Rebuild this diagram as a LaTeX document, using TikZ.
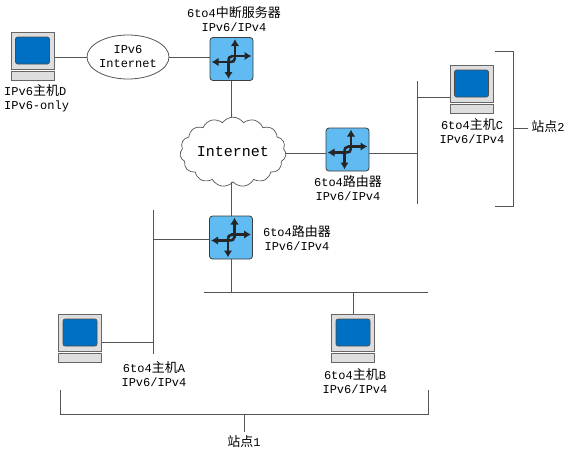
\documentclass[tikz,border=0pt]{standalone}
\usepackage{fontspec}
\setmainfont{Liberation Mono}
\newfontfamily\cjkfont{Noto Sans CJK SC}
\usetikzlibrary{shapes.geometric,shapes.symbols,arrows.meta}
\newcommand{\zh}[1]{{\cjkfont\fontsize{13}{14}\selectfont #1}}
\definecolor{wirecol}{HTML}{555555}
\definecolor{routerblue}{HTML}{5FBBF2}
\definecolor{screenblue}{HTML}{0070C4}
\definecolor{casegray}{HTML}{DEDEDE}
\tikzset{
	wire/.style={draw=wirecol,line width=0.8pt},
	routerbox/.style={draw=wirecol!70!black,line width=0.8pt,fill=routerblue,rounded corners=3pt,minimum width=43pt,minimum height=43pt,inner sep=0pt},
	routerarrow/.style={line width=2.6pt,draw=black!85,-{Latex[length=7pt,width=8.5pt]}},
	hostbox/.style={draw=black!60,line width=1pt,fill=casegray,minimum width=43pt,minimum height=37pt,inner sep=0pt},
	hostscreen/.style={draw=black!70,line width=0.6pt,fill=screenblue,rounded corners=2pt,minimum width=34pt,minimum height=27pt,inner sep=0pt},
	hostbase/.style={draw=black!60,line width=0.8pt,fill=casegray,minimum width=43pt,minimum height=9pt,inner sep=0pt},
	lbl/.style={font=\fontsize{12}{14}\selectfont,align=center,inner sep=0pt},
}
\newcommand{\routerglyph}[1]{
	\draw[routerarrow] ([xshift=-2pt,yshift=-3pt]#1.center) -- ([xshift=-20pt,yshift=-3pt]#1.center);
	\draw[routerarrow] ([xshift=0pt,yshift=3pt]#1.center) -- ([xshift=20pt,yshift=3pt]#1.center);
	\draw[routerarrow] ([xshift=3.5pt,yshift=0pt]#1.center) -- ([xshift=3.5pt,yshift=20pt]#1.center);
	\draw[routerarrow] ([xshift=-3pt,yshift=-2pt]#1.center) -- ([xshift=-3pt,yshift=-20pt]#1.center);
	\draw[line width=2.6pt,draw=black!85] ([xshift=-3pt,yshift=-3pt]#1.center) .. controls ([xshift=2pt,yshift=-3pt]#1.center) and ([xshift=3.5pt,yshift=-2pt]#1.center) .. ([xshift=3.5pt,yshift=1pt]#1.center);
	\draw[line width=2.6pt,draw=black!85] ([xshift=-3pt,yshift=-3pt]#1.center) .. controls ([xshift=-3pt,yshift=1pt]#1.center) and ([xshift=-2pt,yshift=3pt]#1.center) .. ([xshift=1pt,yshift=3pt]#1.center);
}
\newcommand{\hostpc}[3]{
	\node[hostbox] (#1) at (#2,#3) {};
	\node[hostscreen] (#1scr) at (#1.center) {};
	\node[hostbase] (#1base) at ([yshift=-25.5pt]#1.center) {};
}
\begin{document}
\begin{tikzpicture}[x=1pt,y=-1pt]
	\useasboundingbox (0,0) rectangle (568,456);
	\fill[white] (0,0) rectangle (568,456);

	\node[lbl] (relaylabel) at (234,19) {6to4\zh{中断服务器}\\IPv6/IPv4};
	\node[routerbox] (relay) at (231.5,59) {};
	\node[routerbox] (routerb) at (347.5,149.5) {};
	\node[routerbox] (routera) at (231,237.5) {};
	\node[ellipse,draw=wirecol,line width=0.8pt,minimum width=82pt,minimum height=44pt,inner sep=0pt,lbl] (sixnet) at (128,57) {IPv6\\Internet};
	\node[cloud,cloud puffs=15,cloud puff arc=110,aspect=1.7,draw=wirecol,line width=0.7pt,minimum width=104pt,minimum height=61pt,inner sep=0pt,font=\fontsize{15}{16}\selectfont] (inet) at (233,152) {Internet};

	\hostpc{hostd}{32.5}{50.5}
	\hostpc{hostc}{471.5}{83.5}
	\hostpc{hosta}{80}{332.5}
	\hostpc{hostb}{353}{332.5}

	\coordinate (busc) at (417,153);
	\coordinate (busctop) at (417,81);
	\coordinate (buscbot) at (417,204);
	\coordinate (busa) at (153,239);
	\coordinate (busatop) at (153,210);
	\coordinate (busabot) at (153,354);
	\coordinate (busbl) at (204,292);
	\coordinate (busbr) at (428,292);

	\draw[wire] (sixnet.west -| hostd.east)--(sixnet.west);
	\draw[wire] (sixnet.east)--(sixnet.east -| relay.west);
	\draw[wire] (relay.south)--(inet.north -| relay.south);
	\draw[wire] (inet.south -| routera.north)--(routera.north);
	\draw[wire] (routerb.west |- busc) -- (inet.east |- busc);
	\draw[wire] (routerb.east |- busc)--(busc);
	\draw[wire] (busctop)--(buscbot);
	\draw[wire] (busctop |- 0,97)--(hostc.west |- 0,97);
	\draw[wire] (routera.west |- busa)--(busa);
	\draw[wire] (busatop)--(busabot);
	\draw[wire] (busa |- 0,342)--(hosta.east |- 0,342);
	\draw[wire] (busbl)--(busbr);
	\draw[wire] (routera.south)--(routera.south |- busbl);
	\draw[wire] (hostb.north)--(hostb.north |- busbl);

	\routerglyph{relay}
	\routerglyph{routerb}
	\routerglyph{routera}

	\node[lbl,align=left,anchor=north west] (hostdlabel) at (4,84) {IPv6\zh{主机}D\\IPv6-only};
	\node[lbl] (hostclabel) at (472,131) {6to4\zh{主机}C\\IPv6/IPv4};
	\node[lbl] (routerblabel) at (348,188) {6to4\zh{路由器}\\IPv6/IPv4};
	\node[lbl] (routeralabel) at (297,238) {6to4\zh{路由器}\\IPv6/IPv4};
	\node[lbl] (hostalabel) at (154,374) {6to4\zh{主机}A\\IPv6/IPv4};
	\node[lbl] (hostblabel) at (355,381) {6to4\zh{主机}B\\IPv6/IPv4};

	\coordinate (siteatl) at (60,390);
	\coordinate (siteatr) at (428,390);
	\coordinate (siteabl) at (60,414);
	\coordinate (siteabr) at (428,414);
	\coordinate (siteatick) at (244,414);
	\node[lbl] (sitealabel) at (244,442) {\zh{站点}1};
	\draw[wire] (siteatl)--(siteabl)--(siteabr)--(siteatr);
	\draw[wire] (siteatick)--(sitealabel.north |- 0,432);

	\coordinate (sitebtl) at (495,51);
	\coordinate (sitebtr) at (513,51);
	\coordinate (sitebbr) at (513,206);
	\coordinate (sitebbl) at (495,206);
	\coordinate (sitebtick) at (513,128);
	\node[lbl] (siteblabel) at (548,127) {\zh{站点}2};
	\draw[wire] (sitebtl)--(sitebtr)--(sitebbr)--(sitebbl);
	\draw[wire] (sitebtick)--(528,128);
\end{tikzpicture}
\end{document}
